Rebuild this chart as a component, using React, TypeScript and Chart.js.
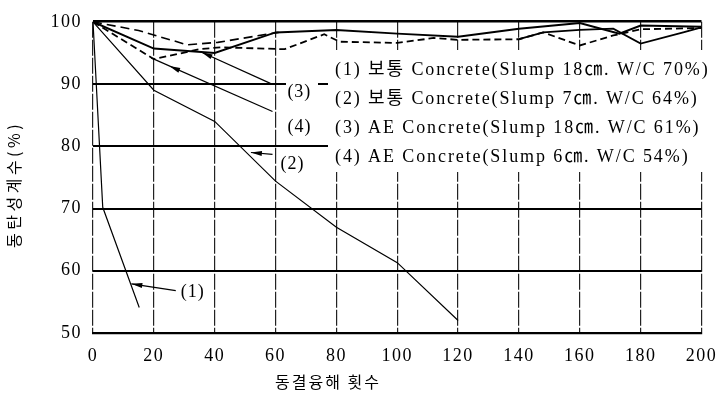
import React, { useEffect, useRef } from "react";
import { Chart, registerables } from "chart.js";

Chart.register(...registerables);

// ---- data (freeze-thaw cycles vs relative dynamic modulus %) ----
const X_MIN = 0;
const X_MAX = 200;
const X_STEP = 20;
const Y_MIN = 50;
const Y_MAX = 100;
const Y_STEP = 10;

// curve (1)
const CYC_1 = [0, 3.2, 15.2];
const DFM_1 = [100, 70.2, 54.1];
// curve (2)
const CYC_2 = [0, 20, 40, 60, 80, 100, 120];
const DFM_2 = [100, 89, 84, 74.4, 67, 61.3, 52];
// upper bundle: solid
const CYC_A = [0, 20, 40, 60, 80, 100, 120, 140, 160, 173, 180, 200];
const DFM_A = [100, 95.7, 95.0, 98.3, 98.7, 98.1, 97.6, 98.9, 99.8, 98.1, 99.4, 99.2];
// upper bundle: dashed
const CYC_B = [0, 20, 35, 42, 63, 76, 81, 100, 112, 120, 140, 148, 160, 171, 180, 200];
const DFM_B = [100, 94.0, 95.6, 95.9, 95.6, 98.0, 96.8, 96.6, 97.4, 97.1, 97.2, 98.3, 96.2, 97.8, 98.8, 99.0];
// upper bundle: long dash from origin
const CYC_C = [0, 15, 31, 41, 61];
const DFM_C = [100, 98.6, 96.3, 96.7, 98.3];
// upper bundle: solid V on the right
const CYC_D = [140, 148, 160, 171, 180, 194, 200];
const DFM_D = [97.2, 98.3, 98.7, 98.9, 96.5, 98.3, 99.1];

// leader lines (label end first, curve end second)
const LEAD_1_X = [27.2, 12.6];
const LEAD_1_Y = [56.8, 57.9];
const LEAD_2_X = [59.0, 51.9];
const LEAD_2_Y = [78.7, 79.0];
const LEAD_3_X = [58.3, 35.7];
const LEAD_3_Y = [90.1, 95.1];
const LEAD_4_X = [59.0, 19.1];
const LEAD_4_Y = [85.6, 94.2];

const CURVE_TAGS = ["(1)", "(2)", "(3)", "(4)"];
const LEGEND_LABELS = [
  "(1) 보통 Concrete(Slump 18㎝. W/C 70%)",
  "(2) 보통 Concrete(Slump 7㎝. W/C 64%)",
  "(3) AE Concrete(Slump 18㎝. W/C 61%)",
  "(4) AE Concrete(Slump 6㎝. W/C 54%)",
];
const X_TITLE = "동결융해 횟수";
const Y_TITLE = "동탄성계수(%)";

const SERIF = "'Liberation Serif', 'Noto Sans CJK KR', serif";
const KR = "'Noto Sans CJK KR', sans-serif";

const zip = (xs: number[], ys: number[]) => xs.map((x, i) => ({ x, y: ys[i] }));

export default function App() {
  const ref = useRef<HTMLCanvasElement>(null);

  useEffect(() => {
    const canvas = ref.current;
    if (!canvas) return;

    const line = (xs: number[], ys: number[], width: number, dash: number[] = []) => ({
      data: zip(xs, ys),
      borderColor: "#000",
      backgroundColor: "#000",
      borderWidth: width,
      borderDash: dash,
      pointRadius: 0,
      tension: 0,
      fill: false,
    });

    const leaders = [
      { xs: LEAD_1_X, ys: LEAD_1_Y, frac: 1, off: [5, 2] },
      { xs: LEAD_2_X, ys: LEAD_2_Y, frac: 1, off: [8, 10] },
      { xs: LEAD_3_X, ys: LEAD_3_Y, frac: 1, off: [17, 9] },
      { xs: LEAD_4_X, ys: LEAD_4_Y, frac: 0.85, off: [15, 16] },
    ];

    const spacing = {
      id: "spacing",
      beforeDraw(chart: any) {
        chart.ctx.letterSpacing = "1.5px";
      },
    };

    const overlay = {
      id: "overlay",
      afterDatasetsDraw(chart: any) {
        const { ctx, scales } = chart;
        const xs = scales.x;
        const ys = scales.y;
        const area = chart.chartArea;
        ctx.save();

        // arrowheads
        ctx.fillStyle = "#000";
        leaders.forEach((l) => {
          const lx = xs.getPixelForValue(l.xs[0]);
          const ly = ys.getPixelForValue(l.ys[0]);
          const tx = xs.getPixelForValue(l.xs[1]);
          const ty = ys.getPixelForValue(l.ys[1]);
          const px = lx + (tx - lx) * l.frac;
          const py = ly + (ty - ly) * l.frac;
          const len = Math.hypot(tx - lx, ty - ly);
          const dx = (tx - lx) / len;
          const dy = (ty - ly) / len;
          const bx = px - dx * 11;
          const by = py - dy * 11;
          ctx.beginPath();
          ctx.moveTo(px, py);
          ctx.lineTo(bx - dy * 2.5, by + dx * 2.5);
          ctx.lineTo(bx + dy * 2.5, by - dx * 2.5);
          ctx.closePath();
          ctx.fill();
        });

        // white boxes (legend block and label (3))
        ctx.fillStyle = "#fff";
        ctx.fillRect(328, 50, chart.width - 328, 122);
        ctx.fillRect(286, 71, 32, 30);

        // curve tags
        ctx.fillStyle = "#000";
        ctx.font = `18px ${SERIF}`;
        ctx.letterSpacing = "1px";
        ctx.textAlign = "left";
        ctx.textBaseline = "middle";
        leaders.forEach((l, i) => {
          const lx = xs.getPixelForValue(l.xs[0]);
          const ly = ys.getPixelForValue(l.ys[0]);
          ctx.fillText(CURVE_TAGS[i], lx + l.off[0], ly + l.off[1]);
        });

        // legend text
        ctx.font = `18px ${SERIF}`;
        ctx.letterSpacing = "1.9px";
        LEGEND_LABELS.forEach((t, i) => {
          ctx.fillText(t, 335, 70 + i * 29);
        });

        // axis titles
        ctx.font = `16px ${KR}`;
        ctx.letterSpacing = "2px";
        ctx.textAlign = "center";
        ctx.fillText(X_TITLE, 328, 382);

        ctx.translate(14, (area.top + area.bottom) / 2 + 7);
        ctx.rotate(-Math.PI / 2);
        ctx.letterSpacing = "3.5px";
        ctx.fillText(Y_TITLE, 0, 0);
        ctx.restore();
      },
    };

    const chart = new Chart(canvas, {
      type: "line",
      data: {
        datasets: [
          line(CYC_1, DFM_1, 1.2),
          line(CYC_2, DFM_2, 1.2),
          line(CYC_A, DFM_A, 2),
          line(CYC_B, DFM_B, 1.8, [7, 4]),
          line(CYC_C, DFM_C, 1.6, [9, 5]),
          line(CYC_D, DFM_D, 1.8),
          line(LEAD_1_X, LEAD_1_Y, 1.2),
          line(LEAD_2_X, LEAD_2_Y, 1.2),
          line(LEAD_3_X, LEAD_3_Y, 1.2),
          line(LEAD_4_X, LEAD_4_Y, 1.2),
        ] as any,
      },
      options: {
        animation: false,
        responsive: false,
        devicePixelRatio: 1,
        layout: { padding: { left: 0, top: 16, right: 17, bottom: 0 } },
        plugins: { legend: { display: false }, tooltip: { enabled: false } },
        scales: {
          x: {
            type: "linear",
            min: X_MIN,
            max: X_MAX,
            ticks: {
              stepSize: X_STEP,
              color: "#000",
              padding: 12,
              font: { family: SERIF, size: 18 },
              maxRotation: 0,
            },
            grid: {
              color: "#222",
              lineWidth: 1.2,
              drawTicks: false,
            },
            border: { display: true, color: "#000", width: 2.2, dash: [16, 2] },
            afterFit: (s: any) => {
              s.height = 400 - 333;
            },
          },
          y: {
            type: "linear",
            min: Y_MIN,
            max: Y_MAX,
            ticks: {
              stepSize: Y_STEP,
              color: "#000",
              padding: 11,
              font: { family: SERIF, size: 18 },
            },
            grid: {
              color: "#000",
              lineWidth: (c: any) => (c.tick && c.tick.value === Y_MAX ? 2.6 : 2),
              drawTicks: false,
            },
            border: { display: false },
            afterFit: (s: any) => {
              s.width = 93;
            },
          },
        },
      },
      plugins: [spacing, overlay],
    });

    return () => chart.destroy();
  }, []);

  return (
    <div style={{ position: "fixed", left: 0, top: 0, width: 727, height: 400, background: "#fff" }}>
      <canvas ref={ref} width={727} height={400} style={{ display: "block" }} />
    </div>
  );
}
